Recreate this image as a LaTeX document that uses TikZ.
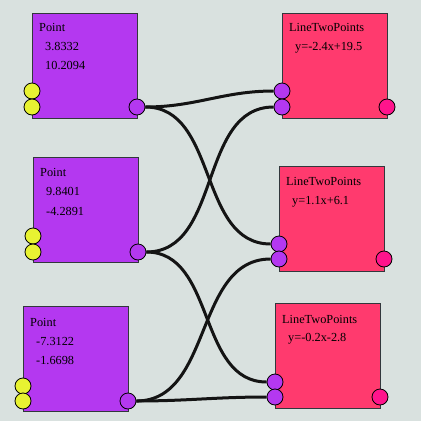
\documentclass[tikz,border=0pt]{standalone}
\usepackage{fontspec}
\setmainfont{Liberation Serif}
\usetikzlibrary{positioning}
\definecolor{canvas}{RGB}{217,225,223}
\definecolor{pointfill}{RGB}{180,56,240}
\definecolor{linefill}{RGB}{255,58,110}
\definecolor{outpink}{RGB}{255,20,140}
\definecolor{inyellow}{RGB}{232,242,50}
\definecolor{boxedge}{RGB}{50,55,60}

\begin{document}
\begin{tikzpicture}[x=1pt,y=-1pt,
  every node/.style={font=\fontsize{12.3}{14}\selectfont},
  block/.style={draw=boxedge,line width=1.2pt,minimum width=105pt,minimum height=105pt,inner sep=0pt,anchor=north west},
  port/.style={circle,draw=black,line width=0.8pt,minimum size=16pt,inner sep=0pt},
  label/.style={anchor=base west,inner sep=0pt},
  wire/.style={line width=3pt,draw=black!92}]
\fill[canvas] (0,0) rectangle (421,421);

% point blocks
\node[block,fill=pointfill] (pt1) at (32,13) {};
\node[block,fill=pointfill] (pt2) at (33,157) {};
\node[block,fill=pointfill] (pt3) at (23,306) {};
% line blocks
\node[block,fill=linefill] (ln1) at (282,13) {};
\node[block,fill=linefill] (ln2) at (279,166) {};
\node[block,fill=linefill] (ln3) at (275,303) {};

\node[label] (pt1t) at ([xshift=7pt,yshift=-18pt]pt1.north west) {Point};
\node[label] (pt1x) at ([xshift=13pt,yshift=-37pt]pt1.north west) {3.8332};
\node[label] (pt1y) at ([xshift=13pt,yshift=-56pt]pt1.north west) {10.2094};
\node[label] (pt2t) at ([xshift=7pt,yshift=-19pt]pt2.north west) {Point};
\node[label] (pt2x) at ([xshift=13pt,yshift=-38pt]pt2.north west) {9.8401};
\node[label] (pt2y) at ([xshift=13pt,yshift=-58pt]pt2.north west) {-4.2891};
\node[label] (pt3t) at ([xshift=7pt,yshift=-20pt]pt3.north west) {Point};
\node[label] (pt3x) at ([xshift=13pt,yshift=-39pt]pt3.north west) {-7.3122};
\node[label] (pt3y) at ([xshift=13pt,yshift=-58pt]pt3.north west) {-1.6698};

\node[label] (ln1t) at ([xshift=7pt,yshift=-18pt]ln1.north west) {LineTwoPoints};
\node[label] (ln1e) at ([xshift=13pt,yshift=-37pt]ln1.north west) {y=-2.4x+19.5};
\node[label] (ln2t) at ([xshift=7pt,yshift=-19pt]ln2.north west) {LineTwoPoints};
\node[label] (ln2e) at ([xshift=13pt,yshift=-38pt]ln2.north west) {y=1.1x+6.1};
\node[label] (ln3t) at ([xshift=7pt,yshift=-20pt]ln3.north west) {LineTwoPoints};
\node[label] (ln3e) at ([xshift=13pt,yshift=-38pt]ln3.north west) {y=-0.2x-2.8};

% ports
\node[port,fill=inyellow] (pt1a) at (32,91) {};
\node[port,fill=inyellow] (pt1b) at (32,107) {};
\node[port,fill=pointfill] (pt1o) at (137,107) {};
\node[port,fill=inyellow] (pt2a) at (33,236) {};
\node[port,fill=inyellow] (pt2b) at (33,252) {};
\node[port,fill=pointfill] (pt2o) at (138,252) {};
\node[port,fill=inyellow] (pt3a) at (23,386) {};
\node[port,fill=inyellow] (pt3b) at (23,401) {};
\node[port,fill=pointfill] (pt3o) at (128,401) {};

\node[port,fill=pointfill] (ln1a) at (282,91) {};
\node[port,fill=pointfill] (ln1b) at (282,107) {};
\node[port,fill=outpink] (ln1o) at (387,107) {};
\node[port,fill=pointfill] (ln2a) at (279,244) {};
\node[port,fill=pointfill] (ln2b) at (279,259) {};
\node[port,fill=outpink] (ln2o) at (384,259) {};
\node[port,fill=pointfill] (ln3a) at (275,382) {};
\node[port,fill=pointfill] (ln3b) at (275,397) {};
\node[port,fill=outpink] (ln3o) at (380,397) {};

% wires
\draw[wire] (pt1o) to[out=0,in=180] (ln1a);
\draw[wire] (pt1o) to[out=0,in=180] (ln2a);
\draw[wire] (pt2o) to[out=0,in=180] (ln1b);
\draw[wire] (pt2o) to[out=0,in=180] (ln3a);
\draw[wire] (pt3o) to[out=0,in=180] (ln2b);
\draw[wire] (pt3o) to[out=0,in=180] (ln3b);
\end{tikzpicture}
\end{document}
